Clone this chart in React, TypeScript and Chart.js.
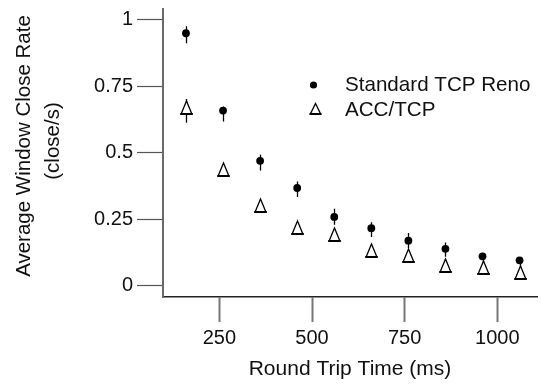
import React, { useEffect, useRef } from 'react';
import { Chart, registerables } from 'chart.js';

Chart.register(...registerables);

// ---- data ----
const rttMs = [160, 260, 360, 460, 560, 660, 760, 860, 960, 1060];
const renoRate = [0.949, 0.658, 0.469, 0.367, 0.258, 0.216, 0.169, 0.138, 0.11, 0.095];
const renoHigh = [0.975, 0.673, 0.492, 0.391, 0.289, 0.238, 0.198, 0.162, 0.118, 0.102];
const renoLow = [0.911, 0.617, 0.433, 0.333, 0.229, 0.183, 0.141, 0.108, 0.085, 0.07];
const accRate = [0.667, 0.433, 0.298, 0.216, 0.191, 0.129, 0.11, 0.075, 0.065, 0.047];
const accHigh = [0.702, 0.452, 0.318, 0.236, 0.21, 0.148, 0.13, 0.098, 0.085, 0.066];
const accLow = [0.612, 0.414, 0.278, 0.196, 0.172, 0.11, 0.09, 0.05, 0.046, 0.028];
const seriesNames = ['Standard TCP Reno', 'ACC/TCP'];
const xTickValues = [250, 500, 750, 1000];
const xTickLabels = ['250', '500', '750', '1000'];
const yTickValues = [0, 0.25, 0.5, 0.75, 1];
const yTickLabels = ['0', '0.25', '0.5', '0.75', '1'];
const xTitle = 'Round Trip Time (ms)';
const yTitle = ['Average Window Close Rate', '(close/s)'];

const FONT = "'Liberation Sans', Arial, Helvetica, sans-serif";

function drawDelta(g: CanvasRenderingContext2D, cx: number, top: number, w: number, h: number) {
  const l = cx - w / 2;
  const r = cx + w / 2;
  const b = top + h;
  g.save();
  g.fillStyle = '#fff';
  g.beginPath();
  g.moveTo(cx, top);
  g.lineTo(l, b);
  g.lineTo(r, b);
  g.closePath();
  g.fill();
  g.strokeStyle = '#000';
  g.lineCap = 'butt';
  g.lineJoin = 'miter';
  g.lineWidth = 1.3;
  g.beginPath();
  g.moveTo(l + 0.4, b - 0.6);
  g.lineTo(cx, top);
  g.lineTo(r - 0.4, b - 0.6);
  g.stroke();
  g.lineWidth = 2;
  g.beginPath();
  g.moveTo(l - 0.3, b - 1);
  g.lineTo(r + 0.3, b - 1);
  g.stroke();
  g.restore();
}

const errorBarPlugin = {
  id: 'errorBars',
  beforeDatasetsDraw(chart: any) {
    const { ctx, chartArea, scales } = chart;
    const bars = [
      { low: renoLow, high: renoHigh },
      { low: accLow, high: accHigh },
    ];
    ctx.save();
    ctx.beginPath();
    ctx.rect(chartArea.left, chartArea.top, chartArea.right - chartArea.left, chartArea.bottom - chartArea.top);
    ctx.clip();
    ctx.strokeStyle = '#000';
    ctx.lineWidth = 1.3;
    bars.forEach((b) => {
      rttMs.forEach((x, i) => {
        const px = Math.round(scales.x.getPixelForValue(x)) + 0.5;
        ctx.beginPath();
        ctx.moveTo(px, scales.y.getPixelForValue(b.low[i]));
        ctx.lineTo(px, scales.y.getPixelForValue(b.high[i]));
        ctx.stroke();
      });
    });
    ctx.restore();
  },
};

// draws the ACC/TCP markers (Δ glyph shape) at the positions the library computed
const deltaMarkerPlugin = {
  id: 'deltaMarkers',
  afterDatasetsDraw(chart: any) {
    const meta = chart.getDatasetMeta(1);
    const { ctx } = chart;
    meta.data.forEach((pt: any) => {
      const cx = Math.round(pt.x) + 0.5;
      const top = Math.round(pt.y - 7);
      drawDelta(ctx, cx, top, 12, 14);
    });
  },
};

const legendPlugin = {
  id: 'customLegend',
  afterDraw(chart: any) {
    const { ctx } = chart;
    ctx.save();
    ctx.fillStyle = '#000';
    ctx.beginPath();
    ctx.arc(313.5, 85, 3.6, 0, Math.PI * 2);
    ctx.fill();
    drawDelta(ctx, 315.5, 103.5, 11.5, 11.5);
    ctx.fillStyle = '#111';
    ctx.font = `20.6px ${FONT}`;
    ctx.textAlign = 'left';
    ctx.textBaseline = 'alphabetic';
    ctx.fillText(seriesNames[0], 345, 91);
    ctx.fillText(seriesNames[1], 345, 116);
    ctx.restore();
  },
};

const yTitlePlugin = {
  id: 'yTitle',
  afterDraw(chart: any) {
    const { ctx } = chart;
    ctx.save();
    ctx.fillStyle = '#111';
    ctx.font = `20.5px ${FONT}`;
    ctx.textAlign = 'center';
    ctx.textBaseline = 'middle';
    const centers = [
      { x: 24, y: 146 },
      { x: 53, y: 141 },
    ];
    yTitle.forEach((t, i) => {
      ctx.save();
      ctx.translate(centers[i].x, centers[i].y);
      ctx.rotate(-Math.PI / 2);
      ctx.fillText(t, 0, 0);
      ctx.restore();
    });
    ctx.restore();
  },
};

export default function App() {
  const ref = useRef<HTMLCanvasElement | null>(null);

  useEffect(() => {
    if (!ref.current) return;
    const chart = new Chart(ref.current, {
      type: 'scatter',
      data: {
        datasets: [
          {
            label: seriesNames[0],
            data: rttMs.map((x, i) => ({ x, y: renoRate[i] })),
            pointStyle: 'circle',
            pointRadius: 3.9,
            pointBorderWidth: 0,
            backgroundColor: '#000',
            borderColor: '#000',
          },
          {
            label: seriesNames[1],
            data: rttMs.map((x, i) => ({ x, y: accRate[i] })),
            pointStyle: 'triangle',
            pointRadius: 0,
            backgroundColor: '#fff',
            borderColor: '#000',
          },
        ],
      },
      options: {
        animation: false,
        responsive: false,
        layout: { padding: { top: 8.5, left: 0, right: 0, bottom: 0 } },
        plugins: {
          legend: { display: false },
          tooltip: { enabled: false },
        },
        scales: {
          x: {
            type: 'linear',
            min: 98,
            max: 1107,
            afterBuildTicks: (s: any) => {
              s.ticks = xTickValues.map((v) => ({ value: v }));
            },
            afterFit: (s: any) => {
              s.height = 88;
              s.paddingLeft = 0;
              s.paddingRight = 0;
            },
            border: { display: true, color: '#222', width: 1.6 },
            grid: {
              drawOnChartArea: false,
              drawTicks: true,
              tickLength: 25,
              tickColor: '#777',
              tickWidth: 2,
            },
            ticks: {
              font: { family: FONT, size: 20 },
              color: '#111',
              padding: 4,
              maxRotation: 0,
              callback: (v: any) => {
                const i = xTickValues.indexOf(Number(v));
                return i >= 0 ? xTickLabels[i] : '';
              },
            },
            title: {
              display: true,
              text: xTitle,
              font: { family: FONT, size: 21 },
              color: '#111',
              padding: { top: 0, bottom: 3 },
            },
          },
          y: {
            type: 'linear',
            min: -0.043,
            max: 1.042,
            afterBuildTicks: (s: any) => {
              s.ticks = yTickValues.map((v) => ({ value: v }));
            },
            afterFit: (s: any) => {
              s.width = 163;
              s.paddingTop = 0;
              s.paddingBottom = 0;
            },
            border: { display: true, color: '#6a6a6a', width: 2 },
            grid: {
              drawOnChartArea: false,
              drawTicks: true,
              tickLength: 26,
              tickColor: '#555',
              tickWidth: 1.2,
            },
            ticks: {
              font: { family: FONT, size: 20 },
              color: '#111',
              padding: 4,
              callback: (v: any) => {
                const i = yTickValues.indexOf(Number(v));
                return i >= 0 ? yTickLabels[i] : '';
              },
            },
            title: { display: false, text: yTitle },
          },
        },
      },
      plugins: [errorBarPlugin, deltaMarkerPlugin, legendPlugin, yTitlePlugin],
    });
    return () => chart.destroy();
  }, []);

  return (
    <div style={{ position: 'absolute', left: 0, top: 0, width: 541, height: 385, background: '#fff' }}>
      <canvas ref={ref} width={541} height={385} style={{ display: 'block' }} />
    </div>
  );
}
